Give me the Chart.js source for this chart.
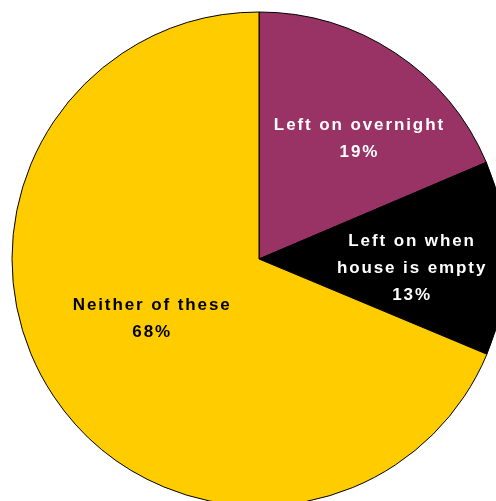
<!DOCTYPE html>
<html>
<head>
<meta charset="utf-8">
<script src="https://cdn.jsdelivr.net/npm/chart.js@4"></script>
<style>
  html, body { margin: 0; padding: 0; background: #fff; overflow: hidden; }
  body { width: 496px; height: 501px; position: relative; }
  .pie-wrap { position: absolute; left: 11px; top: 11px; width: 496px; height: 496px; }
</style>
</head>
<body>
<div class="pie-wrap"><canvas id="pie"></canvas></div>
<script>
// data read off the picture (slice sizes measured from the drawn angles,
// label text as printed)
const categories = ['Left on overnight', 'Left on when house is empty', 'Neither of these'];
const shares = [18.6, 12.7, 68.7];
const labelLines = [
  ['Left on overnight', '19%'],
  ['Left on when', 'house is empty', '13%'],
  ['Neither of these', '68%']
];
const sliceColors = ['#993366', '#000000', '#FFCC00'];
const textColors = ['#ffffff', '#ffffff', '#000000'];

// where each label block sits, as a fraction of radius along the slice's mid angle,
// plus a small nudge
const labelRadius = [0.62, 0.62, 0.5];
const labelNudge = [[15, 8], [-1, 10], [-5, -9]];

const sliceLabels = {
  id: 'sliceLabels',
  afterDatasetsDraw(chart) {
    const ctx = chart.ctx;
    const meta = chart.getDatasetMeta(0);
    const spacing = 1.9;
    const lineH = 27;
    ctx.save();
    ctx.font = 'bold 17px "Liberation Sans", Arial, sans-serif';
    ctx.letterSpacing = spacing + 'px';
    ctx.textAlign = 'center';
    ctx.textBaseline = 'middle';
    meta.data.forEach((arc, i) => {
      const p = arc.getProps(['x', 'y', 'startAngle', 'endAngle', 'outerRadius'], true);
      const mid = (p.startAngle + p.endAngle) / 2;
      const r = p.outerRadius * labelRadius[i];
      const cx = p.x + Math.cos(mid) * r + labelNudge[i][0];
      const cy = p.y + Math.sin(mid) * r + labelNudge[i][1];
      const lines = labelLines[i];
      const top = cy - (lines.length - 1) * lineH / 2;
      ctx.fillStyle = textColors[i];
      lines.forEach((t, k) => {
        ctx.fillText(t, cx + spacing / 2, top + k * lineH);
      });
    });
    ctx.restore();
  }
};

new Chart(document.getElementById('pie'), {
  type: 'pie',
  data: {
    labels: categories,
    datasets: [{
      data: shares,
      backgroundColor: sliceColors,
      borderColor: '#000000',
      borderWidth: 1,
      borderJoinStyle: 'round'
    }]
  },
  options: {
    responsive: true,
    maintainAspectRatio: false,
    animation: false,
    radius: 247,
    layout: { padding: 0 },
    plugins: {
      legend: { display: false },
      tooltip: { enabled: false },
      title: { display: false }
    }
  },
  plugins: [sliceLabels]
});
</script>
</body>
</html>
